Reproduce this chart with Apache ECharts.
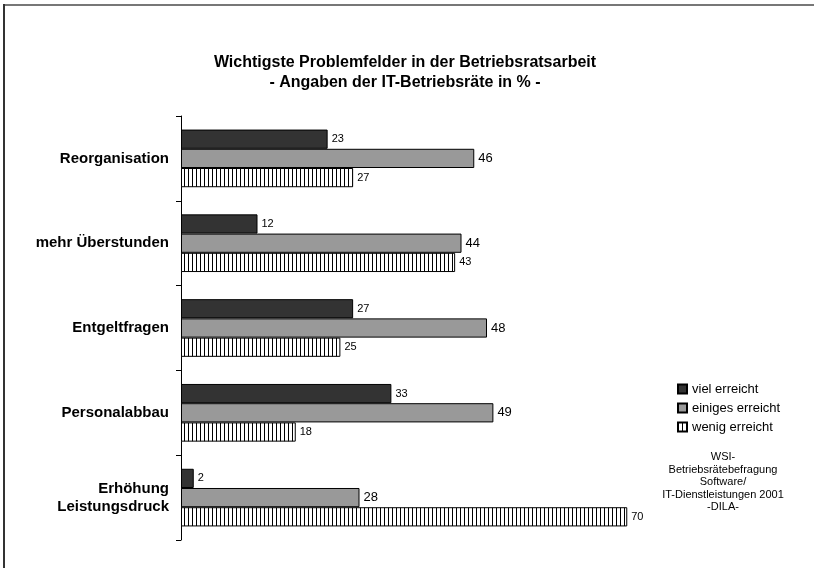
<!DOCTYPE html>
<html>
<head>
<meta charset="utf-8">
<script src="https://cdn.jsdelivr.net/npm/echarts@6/dist/echarts.min.js"></script>
<style>
  html, body { margin: 0; padding: 0; background: #fff; }
  #chart { width: 814px; height: 568px; }
</style>
</head>
<body>
<div id="chart"></div>
<script>
const categories = ['Reorganisation', 'mehr Überstunden', 'Entgeltfragen', 'Personalabbau', 'Erhöhung\nLeistungsdruck'];
const vielErreicht = [23, 12, 27, 33, 2];
const einigesErreicht = [46, 44, 48, 49, 28];
const wenigErreicht = [27, 43, 25, 18, 70];
const sourceLines = ['WSI-', 'Betriebsrätebefragung', 'Software/', 'IT-Dienstleistungen 2001', '-DILA-'];

// vertical stripes for "wenig erreicht"
const stripe = document.createElement('canvas');
stripe.width = 4;
stripe.height = 4;
const ctx = stripe.getContext('2d');
ctx.fillStyle = '#fff';
ctx.fillRect(0, 0, 4, 4);
ctx.fillStyle = '#000';
ctx.fillRect(0, 0, 1, 4);

const chart = echarts.init(document.getElementById('chart'));
const font = 'Liberation Sans, Arial, sans-serif';

const label = (size) => ({
    show: true,
    position: 'right',
    distance: 4,
    color: '#000',
    fontFamily: font,
    fontSize: size
});

chart.setOption({
    backgroundColor: '#fff',
    animation: false,
    title: {
        text: 'Wichtigste Problemfelder in der Betriebsratsarbeit\n- Angaben der IT-Betriebsräte in % -',
        left: 400,
        textAlign: 'center',
        top: 48,
        textStyle: {
            fontFamily: font,
            fontSize: 16,
            fontWeight: 'bold',
            color: '#000',
            lineHeight: 20
        }
    },
    legend: {
        orient: 'vertical',
        left: 672,
        top: 377,
        itemWidth: 9,
        itemHeight: 9,
        itemGap: 5,
        icon: 'rect',
        textStyle: { fontFamily: font, fontSize: 13, color: '#000', lineHeight: 14 },
        data: ['viel erreicht', 'einiges erreicht', 'wenig erreicht']
    },
    grid: {
        left: 181,
        top: 116,
        bottom: 28,
        right: 123
    },
    xAxis: {
        type: 'value',
        min: 0,
        max: 80,
        show: false
    },
    yAxis: {
        type: 'category',
        inverse: true,
        data: categories,
        axisLine: { lineStyle: { color: '#000', width: 1 } },
        axisTick: { show: true, length: 5, lineStyle: { color: '#000' } },
        axisLabel: {
            margin: 12,
            fontFamily: font,
            fontSize: 15,
            fontWeight: 'bold',
            color: '#000',
            lineHeight: 18
        }
    },
    series: [
        {
            name: 'viel erreicht',
            type: 'bar',
            data: vielErreicht,
            barGap: 0,
            barCategoryGap: '32%',
            itemStyle: { color: '#333', borderColor: '#000', borderWidth: 1 },
            label: label(11)
        },
        {
            name: 'einiges erreicht',
            type: 'bar',
            data: einigesErreicht,
            itemStyle: { color: '#999', borderColor: '#000', borderWidth: 1 },
            label: label(13)
        },
        {
            name: 'wenig erreicht',
            type: 'bar',
            data: wenigErreicht,
            itemStyle: {
                color: { image: stripe, repeat: 'repeat' },
                borderColor: '#000',
                borderWidth: 1
            },
            label: label(11)
        }
    ],
    graphic: [
        {
            type: 'line',
            shape: { x1: 4, y1: 5, x2: 814, y2: 5 },
            style: { stroke: '#777', lineWidth: 2 },
            silent: true
        },
        {
            type: 'line',
            shape: { x1: 4, y1: 4, x2: 4, y2: 568 },
            style: { stroke: '#333', lineWidth: 2 },
            silent: true
        },
        {
            type: 'text',
            x: 723,
            y: 451,
            style: {
                text: sourceLines.join('\n'),
                align: 'center',
                fontFamily: font,
                fontSize: 11,
                lineHeight: 12.5,
                fill: '#000'
            }
        }
    ]
});
</script>
</body>
</html>
